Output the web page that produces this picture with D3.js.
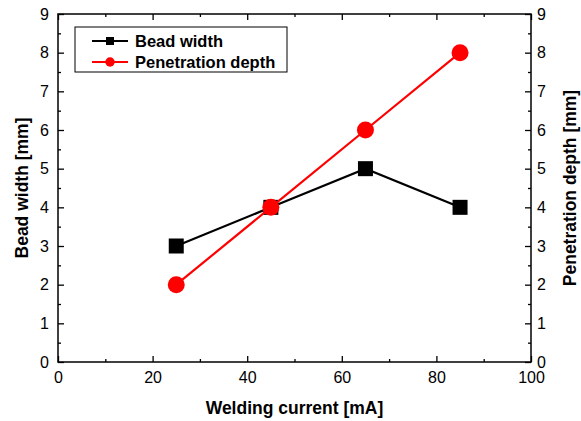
<!DOCTYPE html>
<html>
<head>
<meta charset="utf-8">
<script src="https://cdn.jsdelivr.net/npm/d3@7"></script>
<style>
body { margin: 0; background: #fff; }
text { font-family: "Liberation Sans", Arial, sans-serif; }
</style>
</head>
<body>
<script>
const width = 581;
const height = 421;
const margin = {top: 14, right: 50, bottom: 59, left: 58};

const current = [25, 45, 65, 85];
const beadWidth = [3, 4, 5, 4];
const penetration = [2, 4, 6, 8];
const xTicks = [0, 20, 40, 60, 80, 100];
const yTicks = [0, 1, 2, 3, 4, 5, 6, 7, 8, 9];

const svg = d3.select("body").append("svg")
    .attr("width", width)
    .attr("height", height);

const x = d3.scaleLinear().domain([0, 100]).range([margin.left, width - margin.right]);
const y = d3.scaleLinear().domain([0, 9]).range([height - margin.bottom, margin.top]);
const y2 = d3.scaleLinear().domain([0, 9]).range([height - margin.bottom, margin.top]);

const x0 = margin.left, x1 = width - margin.right;
const y0 = height - margin.bottom, y1 = margin.top;

// minor ticks
const xMinor = d3.range(10, 100, 20);
const yMinor = d3.range(0.5, 9, 1);

function styleAxis(g) {
    g.select(".domain").remove();
    g.selectAll("line").attr("stroke", "#000").attr("stroke-width", 1.3);
    g.selectAll("text").attr("font-size", 16).attr("fill", "#000");
}

// bottom
svg.append("g").attr("transform", `translate(0,${y0})`)
    .call(d3.axisBottom(x).tickValues(xTicks).tickSize(-6).tickPadding(10))
    .call(styleAxis);
svg.append("g").attr("transform", `translate(0,${y0})`)
    .call(d3.axisBottom(x).tickValues(xMinor).tickSize(-3).tickFormat(""))
    .call(styleAxis);
// top
svg.append("g").attr("transform", `translate(0,${y1})`)
    .call(d3.axisTop(x).tickValues(xTicks).tickSize(-6).tickFormat(""))
    .call(styleAxis);
svg.append("g").attr("transform", `translate(0,${y1})`)
    .call(d3.axisTop(x).tickValues(xMinor).tickSize(-3).tickFormat(""))
    .call(styleAxis);
// left
svg.append("g").attr("transform", `translate(${x0},0)`)
    .call(d3.axisLeft(y).tickValues(yTicks).tickSize(-6).tickPadding(9))
    .call(styleAxis);
svg.append("g").attr("transform", `translate(${x0},0)`)
    .call(d3.axisLeft(y).tickValues(yMinor).tickSize(-3).tickFormat(""))
    .call(styleAxis);
// right
svg.append("g").attr("transform", `translate(${x1},0)`)
    .call(d3.axisRight(y2).tickValues(yTicks).tickSize(-6).tickPadding(6))
    .call(styleAxis);
svg.append("g").attr("transform", `translate(${x1},0)`)
    .call(d3.axisRight(y2).tickValues(yMinor).tickSize(-3).tickFormat(""))
    .call(styleAxis);

// frame
svg.append("rect")
    .attr("x", x0).attr("y", y1)
    .attr("width", x1 - x0).attr("height", y0 - y1)
    .attr("fill", "none").attr("stroke", "#000").attr("stroke-width", 1.5);

// axis titles
svg.append("text")
    .attr("x", (x0 + x1) / 2).attr("y", 414)
    .attr("text-anchor", "middle").attr("font-size", 17.5).attr("font-weight", "bold")
    .text("Welding current [mA]");
svg.append("text")
    .attr("transform", `translate(28,${(y0 + y1) / 2}) rotate(-90)`)
    .attr("text-anchor", "middle").attr("font-size", 17.5).attr("font-weight", "bold")
    .text("Bead width [mm]");
svg.append("text")
    .attr("transform", `translate(576,${(y0 + y1) / 2}) rotate(-90)`)
    .attr("text-anchor", "middle").attr("font-size", 17.5).attr("font-weight", "bold")
    .text("Penetration depth [mm]");

// series
const beadData = current.map((c, i) => ({x: c, y: beadWidth[i]}));
const penData = current.map((c, i) => ({x: c, y: penetration[i]}));

const line = d3.line().x(d => x(d.x)).y(d => y(d.y));
const line2 = d3.line().x(d => x(d.x)).y(d => y2(d.y));

svg.append("path").datum(beadData)
    .attr("d", line).attr("fill", "none").attr("stroke", "#000").attr("stroke-width", 2.2);
svg.selectAll(".sq").data(beadData).enter().append("rect")
    .attr("x", d => x(d.x) - 7.5).attr("y", d => y(d.y) - 7.5)
    .attr("width", 15).attr("height", 15).attr("fill", "#000");

svg.append("path").datum(penData)
    .attr("d", line2).attr("fill", "none").attr("stroke", "#ff0000").attr("stroke-width", 2.2);
svg.selectAll(".dot").data(penData).enter().append("circle")
    .attr("cx", d => x(d.x)).attr("cy", d => y2(d.y))
    .attr("r", 8.5).attr("fill", "#ff0000");

// legend
const legend = svg.append("g");
legend.append("rect")
    .attr("x", 75).attr("y", 27).attr("width", 212).attr("height", 45)
    .attr("fill", "#fff").attr("stroke", "#000").attr("stroke-width", 1);
const legendItems = [
    {name: "Bead width", color: "#000", shape: "square"},
    {name: "Penetration depth", color: "#ff0000", shape: "circle"}
];
legendItems.forEach((d, i) => {
    const ly = 41 + i * 21;
    legend.append("line")
        .attr("x1", 92).attr("x2", 128).attr("y1", ly).attr("y2", ly)
        .attr("stroke", d.color).attr("stroke-width", 2.2);
    if (d.shape === "square") {
        legend.append("rect").attr("x", 106).attr("y", ly - 4)
            .attr("width", 8).attr("height", 8).attr("fill", d.color);
    } else {
        legend.append("circle").attr("cx", 110).attr("cy", ly).attr("r", 4.7).attr("fill", d.color);
    }
    legend.append("text")
        .attr("x", 135).attr("y", ly + 5.5)
        .attr("font-size", 16.5).attr("font-weight", "bold")
        .text(d.name);
});
</script>
</body>
</html>
